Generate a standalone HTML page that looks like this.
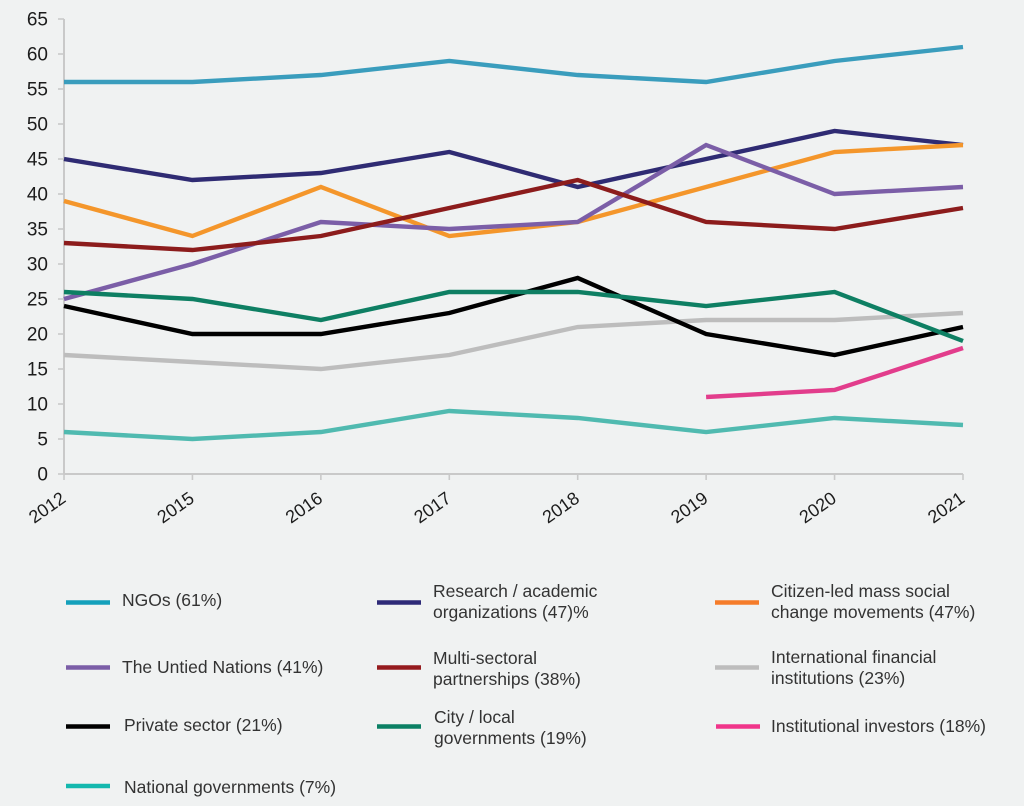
<!DOCTYPE html>
<html lang="en">
<head>
<meta charset="utf-8">
<title>Line chart</title>
<style>
html,body{margin:0;padding:0;background:#f0f2f2;}
svg{display:block;font-family:"Liberation Sans",Arial,sans-serif;}
.tick-label{font-size:19px;fill:#1c1c1c;}
.x-label{font-size:18px;fill:#1c1c1c;}
.legend-label{font-size:17.5px;fill:#333;}
</style>
</head>
<body>
<svg id="chart" width="1024" height="806" viewBox="0 0 1024 806" xmlns="http://www.w3.org/2000/svg">
  <rect width="1024" height="806" fill="#f0f2f2"/>
  <g id="axes"></g>
  <g id="series"></g>
  <g>
    <g>
      <line x1="66" x2="110" y1="602.5" y2="602.5" stroke="#14a0bb" stroke-width="4.5"/>
      <text class="legend-label" x="122" y="606">NGOs (61%)</text>
    </g>
    <g>
      <line x1="377" x2="421" y1="602.5" y2="602.5" stroke="#2e2a78" stroke-width="4.5"/>
      <text class="legend-label" x="433" y="597">Research / academic</text>
      <text class="legend-label" x="433" y="618">organizations (47)%</text>
    </g>
    <g>
      <line x1="715" x2="759" y1="602.5" y2="602.5" stroke="#f57c2a" stroke-width="4.5"/>
      <text class="legend-label" x="771" y="597">Citizen-led mass social</text>
      <text class="legend-label" x="771" y="618">change movements (47%)</text>
    </g>
    <g>
      <line x1="66" x2="110" y1="667.5" y2="667.5" stroke="#7b5ea7" stroke-width="4.5"/>
      <text class="legend-label" x="122" y="673">The Untied Nations (41%)</text>
    </g>
    <g>
      <line x1="377" x2="421" y1="667.5" y2="667.5" stroke="#951b1e" stroke-width="4.5"/>
      <text class="legend-label" x="433" y="664">Multi-sectoral</text>
      <text class="legend-label" x="433" y="685">partnerships (38%)</text>
    </g>
    <g>
      <line x1="715" x2="759" y1="667.5" y2="667.5" stroke="#bdbdbd" stroke-width="4.5"/>
      <text class="legend-label" x="771" y="663">International financial</text>
      <text class="legend-label" x="771" y="684">institutions (23%)</text>
    </g>
    <g>
      <line x1="66" x2="110" y1="726.5" y2="726.5" stroke="#000" stroke-width="4.5"/>
      <text class="legend-label" x="124" y="731">Private sector (21%)</text>
    </g>
    <g>
      <line x1="377" x2="421" y1="726.5" y2="726.5" stroke="#0b8064" stroke-width="4.5"/>
      <text class="legend-label" x="434" y="723">City / local</text>
      <text class="legend-label" x="434" y="744">governments (19%)</text>
    </g>
    <g>
      <line x1="716" x2="760" y1="726.5" y2="726.5" stroke="#f0358a" stroke-width="4.5"/>
      <text class="legend-label" x="771" y="732">Institutional investors (18%)</text>
    </g>
    <g>
      <line x1="66" x2="110" y1="786" y2="786" stroke="#14b8ae" stroke-width="4.5"/>
      <text class="legend-label" x="124" y="793">National governments (7%)</text>
    </g>
  </g>
</svg>
<script>
const years = ["2012","2015","2016","2017","2018","2019","2020","2021"];
const yTicks = [0,5,10,15,20,25,30,35,40,45,50,55,60,65];
const ngos = [56,56,57,59,57,56,59,61];
const research = [45,42,43,46,41,45,49,47];
const citizen = [39,34,41,34,36,41,46,47];
const unitedNations = [25,30,36,35,36,47,40,41];
const multiSectoral = [33,32,34,38,42,36,35,38];
const financial = [17,16,15,17,21,22,22,23];
const privateSector = [24,20,20,23,28,20,17,21];
const cityLocal = [26,25,22,26,26,24,26,19];
const investors = [null,null,null,null,null,11,12,18];
const national = [6,5,6,9,8,6,8,7];

const NS = "http://www.w3.org/2000/svg";
const left = 64, right = 963, top0 = 19, bottom = 474, yMax = 65;
const xAt = i => left + i * (right - left) / (years.length - 1);
const yAt = v => bottom - v * (bottom - top0) / yMax;

function make(tag, attrs, parent) {
  const el = document.createElementNS(NS, tag);
  for (const k in attrs) el.setAttribute(k, attrs[k]);
  parent.appendChild(el);
  return el;
}

const axes = document.getElementById("axes");
const axisColor = "#c9c9c9";

const yAxis = make("line", {x1: left, x2: left, y1: top0, y2: bottom, stroke: axisColor, "stroke-width": 2}, axes);



const xAxis = make("line", {x1: left, x2: right, y1: bottom, y2: bottom, stroke: axisColor, "stroke-width": 2}, axes);



yTicks.forEach(v => {
  const t = make("line", {x1: left - 6, x2: left, y1: yAt(v), y2: yAt(v), stroke: axisColor, "stroke-width": 1.6}, axes);
  
  
  const l = make("text", {class: "tick-label", x: 48, y: yAt(v) + 6.5, "text-anchor": "end"}, axes);
  
  
  l.textContent = v;
});

years.forEach((yr, i) => {
  const x = xAt(i);
  const t = make("line", {x1: x, x2: x, y1: bottom, y2: bottom + 6, stroke: axisColor, "stroke-width": 1.6}, axes);
  
  
  const lx = x + 3, ly = 501;
  const l = make("text", {class: "x-label", x: lx, y: ly, "text-anchor": "end", transform: "rotate(-35 " + lx + " " + ly + ")"}, axes);
  
  
  l.textContent = yr;
});

const seriesGroup = document.getElementById("series");
function drawLine(values, color, name) {
  const pts = [];
  values.forEach((v, i) => {
    if (v !== null) pts.push(xAt(i).toFixed(1) + "," + yAt(v).toFixed(1));
  });
  const p = make("polyline", {points: pts.join(" "), fill: "none", stroke: color, "stroke-width": 4.4, "stroke-linejoin": "miter"}, seriesGroup);
  
  
}

drawLine(ngos, "#3a9dbd", "line-ngos");
drawLine(research, "#2f2b73", "line-research");
drawLine(citizen, "#f4962b", "line-citizen-led");
drawLine(unitedNations, "#7b5ea7", "line-united-nations");
drawLine(multiSectoral, "#8c1c1c", "line-multi-sectoral");
drawLine(financial, "#bdbdbd", "line-financial-institutions");
drawLine(privateSector, "#000000", "line-private-sector");
drawLine(cityLocal, "#0e7f63", "line-city-governments");
drawLine(investors, "#e23d8c", "line-institutional-investors");
drawLine(national, "#50bab0", "line-national-governments");
</script>
</body>
</html>
